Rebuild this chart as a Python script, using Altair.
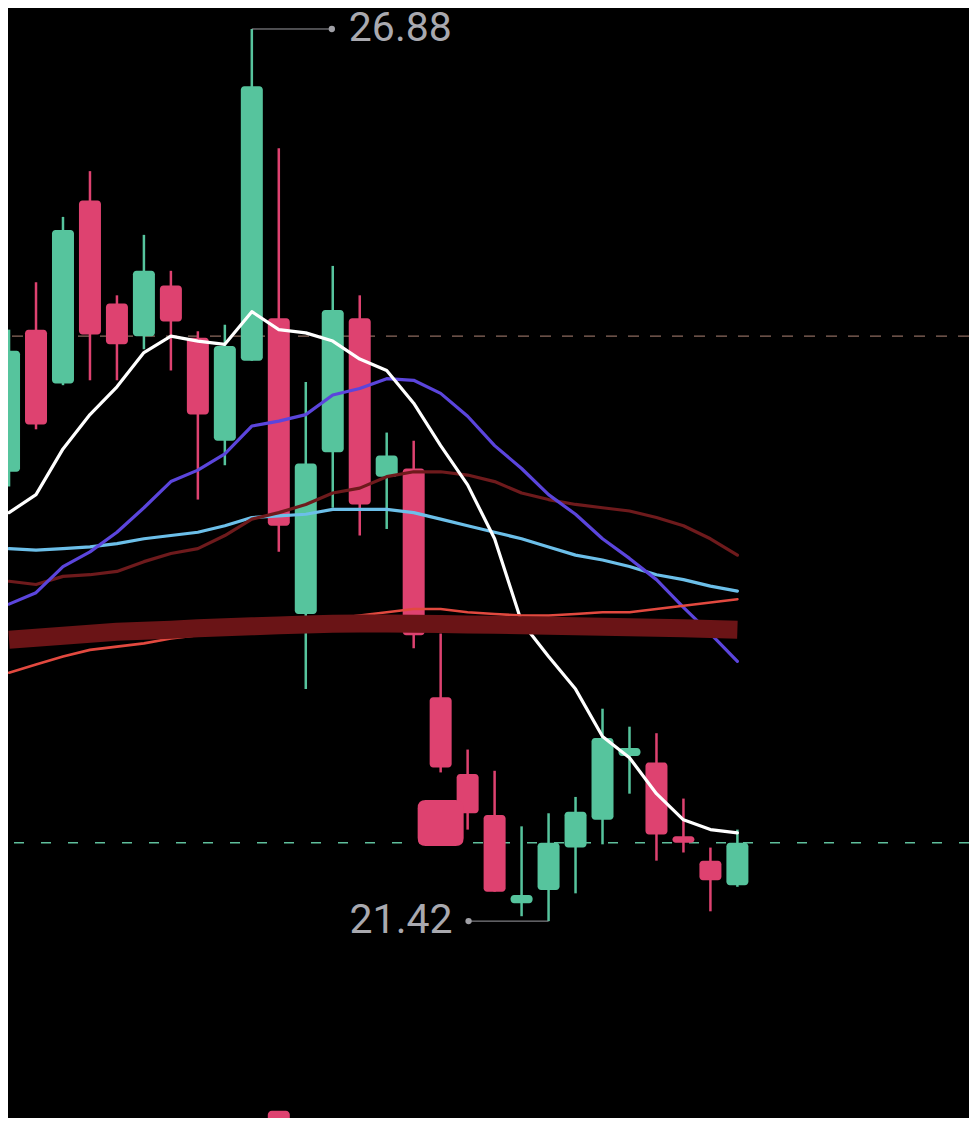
import altair as alt
import pandas as pd

# ---- data ----
idx = list(range(28))
opens = [24.17, 25.04, 24.71, 25.83, 25.20, 25.00, 25.31, 24.99, 24.36, 24.85,
         25.11, 23.30, 24.29, 25.11, 24.14, 24.19, 22.79, 22.32, 22.07, 21.53,
         21.61, 21.87, 22.04, 22.43, 22.39, 21.94, 21.79, 21.64]
closes = [24.91, 24.46, 25.65, 25.01, 24.95, 25.40, 25.09, 24.52, 24.94, 26.53,
          23.84, 24.22, 25.16, 23.97, 24.27, 23.17, 22.36, 22.08, 21.60, 21.58,
          21.90, 22.09, 22.54, 22.48, 21.95, 21.90, 21.67, 21.90]
highs = [25.04, 25.33, 25.73, 26.01, 25.25, 25.62, 25.40, 25.03, 25.07, 26.88,
         26.15, 24.72, 25.43, 25.25, 24.41, 24.36, 23.18, 22.47, 22.34, 22.00,
         22.08, 22.18, 22.72, 22.61, 22.57, 22.17, 21.87, 21.98]
lows = [24.08, 24.43, 24.70, 24.73, 24.73, 24.92, 24.79, 24.00, 24.21, 24.85,
        23.68, 22.84, 23.95, 23.78, 23.82, 23.09, 22.33, 21.98, 21.60, 21.45,
        21.42, 21.59, 21.89, 22.20, 21.79, 21.84, 21.48, 21.63]

ma_white = [23.92, 24.03, 24.31, 24.52, 24.69, 24.90, 25.00, 24.97, 24.95, 25.15,
            25.04, 25.02, 24.97, 24.86, 24.79, 24.59, 24.33, 24.09, 23.76, 23.25,
            23.04, 22.84, 22.55, 22.42, 22.20, 22.04, 21.98, 21.96]
ma_purple = [23.36, 23.43, 23.59, 23.68, 23.80, 23.95, 24.11, 24.18, 24.28, 24.45,
             24.48, 24.52, 24.64, 24.68, 24.74, 24.73, 24.65, 24.51, 24.33, 24.19,
             24.03, 23.91, 23.76, 23.64, 23.51, 23.34, 23.18, 23.01]
ma_blue = [23.70, 23.69, 23.70, 23.71, 23.73, 23.76, 23.78, 23.80, 23.84, 23.89,
           23.90, 23.91, 23.94, 23.94, 23.94, 23.92, 23.88, 23.84, 23.80, 23.76,
           23.71, 23.66, 23.63, 23.59, 23.54, 23.51, 23.47, 23.44]
ma_maroon = [23.50, 23.48, 23.53, 23.54, 23.56, 23.62, 23.67, 23.70, 23.78, 23.88,
             23.92, 23.97, 24.04, 24.07, 24.14, 24.17, 24.17, 24.15, 24.11, 24.04,
             24.00, 23.97, 23.95, 23.93, 23.89, 23.84, 23.76, 23.66]
ma_red = [22.94, 22.99, 23.04, 23.08, 23.10, 23.12, 23.15, 23.17, 23.19, 23.22,
          23.23, 23.25, 23.27, 23.29, 23.31, 23.33, 23.33, 23.31, 23.30, 23.29,
          23.29, 23.30, 23.31, 23.31, 23.33, 23.35, 23.37, 23.39]
ma_band = [23.142, 23.154, 23.167, 23.179, 23.191, 23.197, 23.203, 23.212, 23.218, 23.224,
           23.230, 23.236, 23.240, 23.241, 23.241, 23.240, 23.238, 23.236, 23.234, 23.231,
           23.228, 23.225, 23.222, 23.219, 23.216, 23.212, 23.208, 23.203]

grid_levels = [27.00, 25.00]
last_price = [21.90]

max_idx, max_price, max_label = 9, 26.88, "26.88"
min_idx, min_price, min_label = 20, 21.42, "21.42"

marker_idx, marker_price = 16, 22.02
bottom_marker_idx, bottom_marker_top, bottom_marker_bottom = 10, 20.26, 20.05

# ---- styling ----
GREEN = "#56c49d"
RED = "#de4270"
LABEL = "#a9a9af"

candles = pd.DataFrame({"idx": idx, "open": opens, "close": closes,
                        "high": highs, "low": lows})
candles["dir"] = ["up" if c >= o else "down" for o, c in zip(opens, closes)]

ma = pd.DataFrame({"idx": idx, "white": ma_white, "purple": ma_purple,
                   "blue": ma_blue, "maroon": ma_maroon, "red": ma_red,
                   "band": ma_band})

xs = alt.Scale(domain=[0.147, 35.40], nice=False, zero=False)
ys = alt.Scale(domain=[20.215, 26.984], nice=False, zero=False)
X = alt.X("idx:Q", scale=xs, axis=None)
col = alt.Color("dir:N", scale=alt.Scale(domain=["up", "down"], range=[GREEN, RED]),
                legend=None)

wicks = alt.Chart(candles).mark_rule(strokeWidth=2.5, clip=True).encode(
    x=X, y=alt.Y("low:Q", scale=ys, axis=None), y2="high:Q", color=col)
bodies = alt.Chart(candles).mark_bar(size=22, cornerRadius=3.5, clip=True).encode(
    x=X, y=alt.Y("open:Q", scale=ys, axis=None), y2="close:Q", color=col)

grid = alt.Chart(pd.DataFrame({"level": grid_levels})).mark_rule(
    color="#8c6a5e", strokeWidth=1.3, strokeDash=[11, 11], clip=True).encode(
    y=alt.Y("level:Q", scale=ys, axis=None))
lastline = alt.Chart(pd.DataFrame({"level": last_price})).mark_rule(
    color="#5fbf9c", strokeWidth=1.6, strokeDash=[10, 17], clip=True).encode(
    y=alt.Y("level:Q", scale=ys, axis=None))


def ma_line(field, color, width, cap="round"):
    return alt.Chart(ma).mark_line(color=color, strokeWidth=width, strokeCap=cap,
                                   strokeJoin="round", clip=True).encode(
        x=X, y=alt.Y(f"{field}:Q", scale=ys, axis=None))


lines = [
    ma_line("blue", "#6cbfe9", 3.2),
    ma_line("maroon", "#6e1a1c", 3.2),
    ma_line("purple", "#5b45dc", 3.2),
    ma_line("white", "#ffffff", 3.2),
    ma_line("red", "#e2493f", 2.6),
    ma_line("band", "#6a1416", 18, cap="butt"),
]

rounded_square = ("M-0.65,-1 L0.65,-1 Q1,-1 1,-0.65 L1,0.65 Q1,1 0.65,1 "
                  "L-0.65,1 Q-1,1 -1,0.65 L-1,-0.65 Q-1,-1 -0.65,-1 Z")
marker = alt.Chart(pd.DataFrame({"idx": [marker_idx], "p": [marker_price]})).mark_point(
    shape=rounded_square, size=2116, filled=True, opacity=1, color=RED, clip=True).encode(
    x=X, y=alt.Y("p:Q", scale=ys, axis=None))

bottom_marker = alt.Chart(pd.DataFrame({"idx": [bottom_marker_idx],
                                        "t": [bottom_marker_top],
                                        "b": [bottom_marker_bottom]})).mark_bar(
    size=22, cornerRadius=4, color=RED, clip=True).encode(
    x=X, y=alt.Y("t:Q", scale=ys, axis=None), y2="b:Q")

hi_df = pd.DataFrame({"idx": [max_idx], "p": [max_price], "label": [max_label]})
lo_df = pd.DataFrame({"idx": [min_idx], "p": [min_price], "label": [min_label]})

hi_rule = alt.Chart(hi_df).mark_rule(color="#9a9aa0", strokeWidth=1, x2Offset=80).encode(
    x=X, x2="idx:Q", y=alt.Y("p:Q", scale=ys, axis=None))
hi_dot = alt.Chart(hi_df).mark_point(filled=True, size=40, opacity=1, color="#a0a0a6",
                                     xOffset=80).encode(
    x=X, y=alt.Y("p:Q", scale=ys, axis=None))
hi_text = alt.Chart(hi_df).mark_text(align="left", baseline="alphabetic", dx=97, dy=12,
                                     font="Roboto", fontSize=41, color=LABEL).encode(
    x=X, y=alt.Y("p:Q", scale=ys, axis=None), text="label:N")

lo_rule = alt.Chart(lo_df).mark_rule(color="#9a9aa0", strokeWidth=1, x2Offset=-80).encode(
    x=X, x2="idx:Q", y=alt.Y("p:Q", scale=ys, axis=None))
lo_dot = alt.Chart(lo_df).mark_point(filled=True, size=40, opacity=1, color="#a0a0a6",
                                     xOffset=-80).encode(
    x=X, y=alt.Y("p:Q", scale=ys, axis=None))
lo_text = alt.Chart(lo_df).mark_text(align="right", baseline="alphabetic", dx=-96, dy=12,
                                     font="Roboto", fontSize=41, color=LABEL).encode(
    x=X, y=alt.Y("p:Q", scale=ys, axis=None), text="label:N")

chart = alt.layer(
    grid, lastline, wicks, bodies, *lines, marker, bottom_marker,
    hi_rule, hi_dot, hi_text, lo_rule, lo_dot, lo_text
).properties(
    width=961, height=1110, padding=0, background="#000000",
    autosize=alt.AutoSizeParams(type="fit", contains="padding")
).configure_view(strokeWidth=0)

chart.save("out.html", embed_options={"renderer": "svg", "actions": False})
